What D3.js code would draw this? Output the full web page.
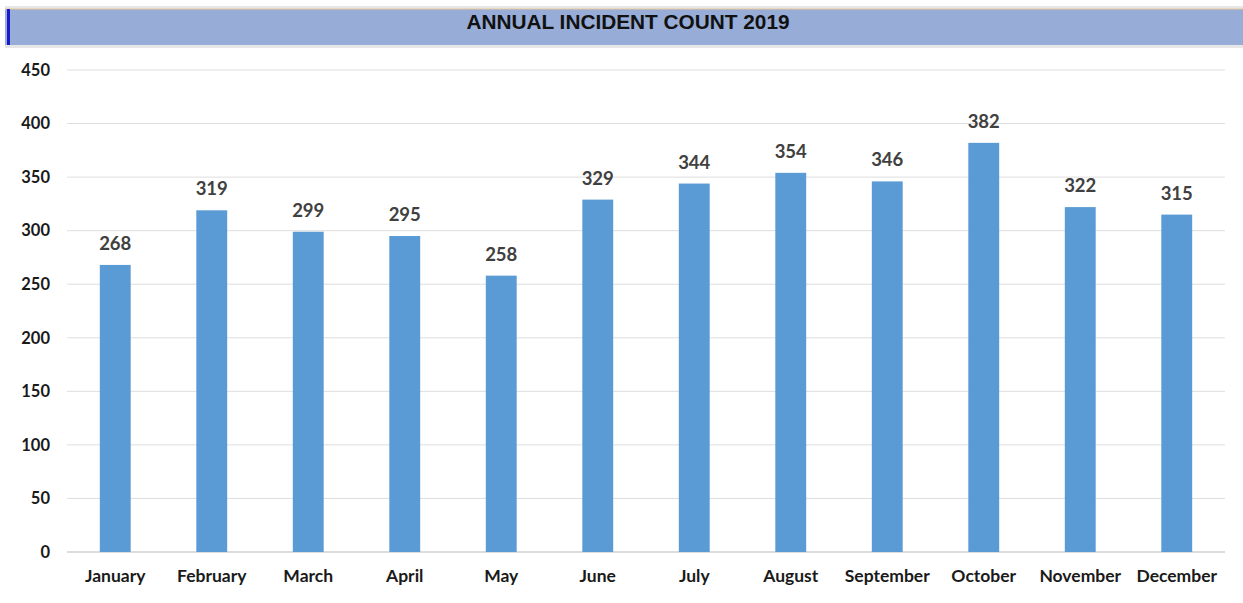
<!DOCTYPE html>
<html>
<head>
<meta charset="utf-8">
<style>
    body { margin: 0; background: #fff; }
    svg { font-family: Lato, 'Open Sans', sans-serif; }
</style>
</head>
<body>
<svg width="1243" height="603"></svg>
<script src="https://d3js.org/d3.v7.min.js"></script>
<script>
    const months = ['January', 'February', 'March', 'April', 'May', 'June', 'July', 'August', 'September', 'October', 'November', 'December'];
    const counts = [268, 319, 299, 295, 258, 329, 344, 354, 346, 382, 322, 315];
    const yTicks = [0, 50, 100, 150, 200, 250, 300, 350, 400, 450];

    const svg = d3.select('svg');
    const width = 1243;

    // title band
    svg.append('rect').attr('x', 5).attr('y', 6).attr('width', width - 5).attr('height', 42)
        .attr('fill', '#e6e6e6');
    svg.append('rect').attr('x', 5).attr('y', 9).attr('width', width - 5).attr('height', 36)
        .attr('fill', '#97acd6');
    svg.append('line').attr('x1', 5).attr('x2', width).attr('y1', 9).attr('y2', 9)
        .attr('stroke', '#e8c89a').attr('stroke-width', 1);
    svg.append('rect').attr('x', 7).attr('y', 9).attr('width', 3).attr('height', 36)
        .attr('fill', '#1a1acc');
    svg.append('text').attr('x', 628).attr('y', 29)
        .attr('text-anchor', 'middle')
        .attr('font-family', "'Liberation Sans', Arial, sans-serif")
        .attr('font-size', 20.8).attr('font-weight', 'bold').attr('fill', '#111')
        .text('ANNUAL INCIDENT COUNT 2019');

    const x = d3.scaleBand().domain(months).range([67, 1225]).paddingInner(0.68).paddingOuter(0.34);
    const y = d3.scaleLinear().domain([0, 450]).range([552, 70]);

    // gridlines
    svg.append('g').selectAll('line').data(yTicks).join('line')
        .attr('x1', 67).attr('x2', 1225)
        .attr('y1', d => y(d)).attr('y2', d => y(d))
        .attr('stroke', d => d === 0 ? '#d0d0d0' : '#dedede').attr('stroke-width', d => d === 0 ? 1.5 : 1);

    // y axis
    const yAxis = svg.append('g').attr('transform', 'translate(50,0)')
        .call(d3.axisLeft(y).tickValues(yTicks).tickSize(0).tickPadding(0));
    yAxis.select('.domain').remove();
    yAxis.selectAll('text').attr('font-size', 16.5).attr('font-weight', 'bold').attr('fill', '#1a1a1a')
        .attr('font-family', 'Lato, sans-serif');

    // x axis
    const xAxis = svg.append('g').attr('transform', 'translate(0,552)')
        .call(d3.axisBottom(x).tickSize(0).tickPadding(18));
    xAxis.select('.domain').remove();
    xAxis.selectAll('text').attr('font-size', 17.5).attr('font-weight', 'bold').attr('fill', '#1a1a1a')
        .attr('font-family', 'Lato, sans-serif');

    // bars
    svg.append('g').selectAll('rect').data(counts).join('rect')
        .attr('x', (d, i) => x(months[i]))
        .attr('width', x.bandwidth())
        .attr('y', d => y(d))
        .attr('height', d => y(0) - y(d))
        .attr('fill', '#5b9bd5');

    // value labels
    svg.append('g').selectAll('text').data(counts).join('text')
        .attr('x', (d, i) => x(months[i]) + x.bandwidth() / 2)
        .attr('y', d => y(d) - 15)
        .attr('text-anchor', 'middle')
        .attr('font-size', 18.5).attr('font-weight', 'bold').attr('fill', '#404040')
        .text(d => d);
</script>
</body>
</html>
